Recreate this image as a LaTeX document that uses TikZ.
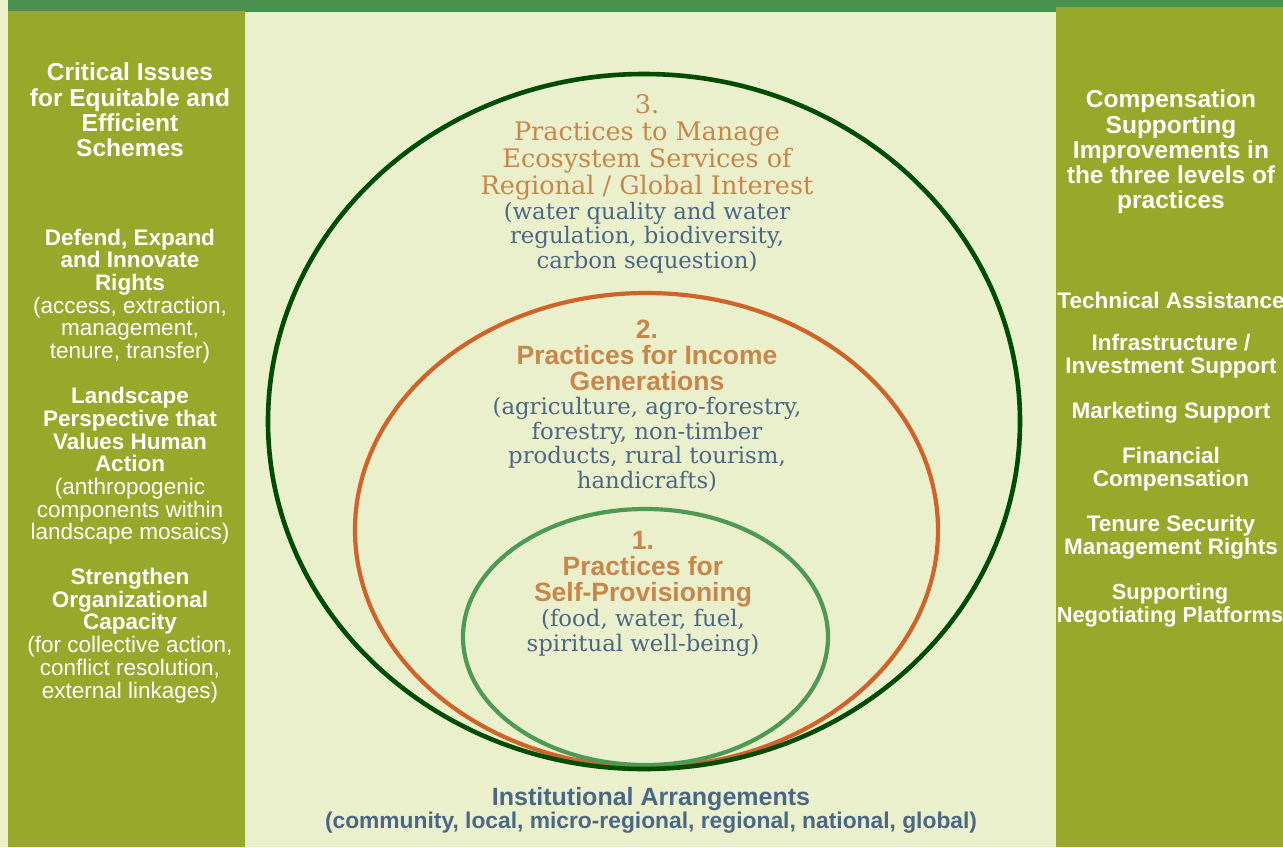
\documentclass[tikz,border=0pt]{standalone}
\usepackage{fontspec}
\setsansfont{Liberation Sans}
\newfontfamily\bookfont{DejaVu Serif}
\usetikzlibrary{positioning}

\definecolor{bgcream}{RGB}{235,240,204}
\definecolor{barGreen}{RGB}{74,145,80}
\definecolor{panelOlive}{RGB}{150,169,42}
\definecolor{ringDark}{RGB}{0,77,0}
\definecolor{ringOrange}{RGB}{208,100,40}
\definecolor{ringGreen}{RGB}{78,154,85}
\definecolor{headTan}{RGB}{200,134,74}
\definecolor{noteBlue}{RGB}{74,103,133}

\newcommand{\plainline}{\mdseries}

\tikzset{
  paneltitle/.style={text=white, inner sep=0pt, align=center,
    font=\sffamily\bfseries\fontsize{24.5}{25.3}\selectfont},
  panelitem/.style={text=white, inner sep=0pt, align=center,
    font=\sffamily\bfseries\fontsize{22.5}{22.7}\selectfont},
  levelhead/.style={text=headTan, inner sep=0pt, align=center,
    font=\sffamily\bfseries\fontsize{26.5}{26}\selectfont},
  levelserif/.style={text=headTan, inner sep=0pt, align=center,
    font=\bookfont\fontsize{25.5}{26.8}\selectfont},
  levelnote/.style={text=noteBlue, inner sep=0pt, align=center,
    font=\bookfont\fontsize{22.8}{24.5}\selectfont},
  ring/.style={line width=4.2pt}
}

\begin{document}
\begin{tikzpicture}[x=1pt,y=-1pt]
  \useasboundingbox (0,0) rectangle (1283,847);
  \clip (0,0) rectangle (1283,847);

  % background and side panels
  \fill[bgcream] (0,0) rectangle (1283,847);
  \fill[barGreen] (8,0) rectangle (1283,12);
  \fill[panelOlive] (8,11) rectangle (245,847);
  \fill[panelOlive] (1056,7) rectangle (1283,847);

  % nested levels of practices
  \draw[ring, ringOrange] (646.5,530) ellipse [x radius=291.5pt, y radius=237pt];
  \draw[ring, ringGreen] (645.5,637) ellipse [x radius=182.5pt, y radius=128pt];
  \draw[ring, ringDark, line width=4.6pt] (644,421.5) ellipse [x radius=376pt, y radius=347.5pt];

  % left panel
  \node[paneltitle] (critical) at (130,110) {Critical Issues\\for Equitable and\\Efficient\\Schemes};
  \node[panelitem] (rights) at (130,296) {Defend, Expand\\and Innovate\\Rights\\
    \plainline(access, extraction,\\\plainline management,\\\plainline tenure, transfer)};
  \node[panelitem] (landscape) at (130,466) {Landscape\\Perspective that\\Values Human\\Action\\
    \plainline(anthropogenic\\\plainline components within\\\plainline landscape mosaics)};
  \node[panelitem] (capacity) at (130,635.5) {Strengthen\\Organizational\\Capacity\\
    \plainline(for collective action,\\\plainline conflict resolution,\\\plainline external linkages)};

  % right panel
  \node[paneltitle] (compens) at (1171,152) {Compensation\\Supporting\\Improvements in\\the three levels of\\practices};
  \node[panelitem] (technical) at (1171,300) {Technical Assistance};
  \node[panelitem] (infra) at (1171,356.5) {Infrastructure /\\Investment Support};
  \node[panelitem] (marketing) at (1171,413) {Marketing Support};
  \node[panelitem] (financial) at (1171,469.5) {Financial\\Compensation};
  \node[panelitem] (tenure) at (1171,537.5) {Tenure Security\\Management Rights};
  \node[panelitem, font=\sffamily\bfseries\fontsize{21.8}{22.7}\selectfont] (platforms) at (1170,605.5) {Supporting\\Negotiating Platforms};

  % level 3
  \node[levelserif] (head3) at (647,147.5) {3.\\Practices to Manage\\Ecosystem Services of\\Regional / Global Interest};
  \node[levelnote] (note3) at (647,237.5) {(water quality and water\\regulation, biodiversity,\\carbon sequestion)};

  % level 2
  \node[levelhead] (head2) at (647,355.5) {2.\\Practices for Income\\Generations};
  \node[levelnote] (note2) at (647,444.5) {(agriculture, agro-forestry,\\forestry, non-timber\\products, rural tourism,\\handicrafts)};

  % level 1
  \node[levelhead] (head1) at (643,569.5) {1.\\Practices for\\Self-Provisioning};
  \node[levelnote] (note1) at (643,633) {(food, water, fuel,\\spiritual well-being)};

  % bottom
  \node[levelhead, text=noteBlue, font=\sffamily\bfseries\fontsize{25}{24}\selectfont] (inst) at (651,799) {Institutional Arrangements};
  \node[levelhead, text=noteBlue, font=\sffamily\bfseries\fontsize{22.8}{24}\selectfont] (scales) at (651,823) {(community, local, micro-regional, regional, national, global)};
\end{tikzpicture}
\end{document}
